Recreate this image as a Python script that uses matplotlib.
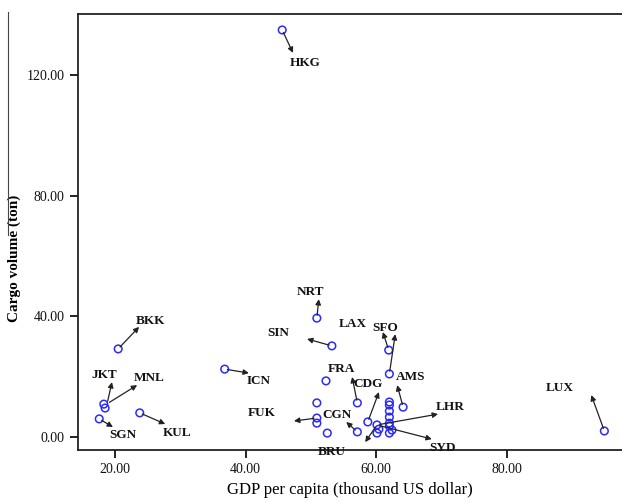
import numpy as np
import matplotlib
matplotlib.use("Agg")
import matplotlib.pyplot as plt
from matplotlib.lines import Line2D

plt.rcParams['font.family'] = ['Liberation Serif', 'DejaVu Serif']

# GDP per capita (thousand US dollar) and cargo volume (ton) for each airport
gdp = [45.6, 20.5, 18.3, 18.5, 17.6, 23.8, 36.8,
       50.9, 50.9, 50.9, 52.5, 50.9, 53.2, 52.3,
       57.1, 57.1, 58.7, 60.1, 60.4, 60.1,
       62.0, 62.0, 62.0, 62.0, 62.0, 62.0, 62.0, 62.4,
       64.1, 62.0, 61.9, 94.9]
cargo = [134.9, 29.2, 10.9, 9.6, 6.0, 8.0, 22.5,
         11.3, 6.3, 4.6, 1.3, 39.4, 30.2, 18.6,
         11.3, 1.7, 5.0, 4.0, 2.6, 1.3,
         11.6, 10.6, 8.6, 6.6, 4.6, 3.6, 1.3, 2.3,
         9.9, 20.9, 28.8, 2.0]

# airport labels: text position
labels = ['HKG', 'BKK', 'JKT', 'MNL', 'SGN', 'KUL', 'ICN', 'FUK', 'NRT', 'SIN',
          'LAX', 'SFO', 'AMS', 'FRA', 'CDG', 'CGN', 'BRU', 'LHR', 'SYD', 'LUX']
label_x = [49.1, 25.5, 18.3, 25.2, 21.2, 29.5, 42.0, 42.5, 49.9, 45.0,
           56.4, 61.3, 65.2, 54.7, 58.7, 54.0, 53.2, 71.3, 70.2, 88.1]
label_y = [124.0, 38.4, 20.5, 19.6, 0.7, 1.3, 18.6, 8.0, 48.1, 34.5,
           37.5, 36.1, 19.9, 22.5, 17.6, 7.3, -5.0, 9.9, -3.6, 16.2]

# arrows: from point to tip
arrow_x0 = [45.6, 20.5, 18.8, 18.8, 17.6, 23.8, 36.8, 50.9, 50.9, 53.2,
            61.9, 62.0, 64.1, 57.1, 58.7, 57.1, 60.1, 60.1, 60.1, 94.9]
arrow_y0 = [134.9, 29.2, 11.0, 11.0, 6.0, 8.0, 22.5, 6.3, 39.4, 30.2,
            28.8, 20.9, 9.9, 11.3, 5.0, 1.7, 4.0, 4.0, 4.0, 2.0]
arrow_x1 = [47.25, 23.7, 19.55, 23.4, 19.7, 27.7, 40.5, 47.4, 51.2, 49.4,
            61.0, 62.9, 63.2, 56.3, 60.4, 55.4, 58.3, 69.45, 68.5, 92.9]
arrow_y1 = [127.3, 36.5, 18.2, 17.2, 3.3, 4.3, 21.2, 5.3, 45.7, 32.5,
            34.8, 34.1, 17.2, 19.9, 14.9, 5.0, -1.7, 7.6, -0.7, 13.9]

fig = plt.figure(figsize=(6.22, 5.03), dpi=100)
ax = fig.add_axes([0.1254, 0.1054, 0.8746, 0.8668])

ax.scatter(gdp, cargo, s=30, facecolors='none', edgecolors='#2a2aff', linewidths=1.1, zorder=3)

for i in range(len(arrow_x0)):
    ax.annotate('', xy=(arrow_x1[i], arrow_y1[i]), xytext=(arrow_x0[i], arrow_y0[i]),
                arrowprops=dict(arrowstyle='-|>', color='#222222', lw=0.9,
                                mutation_scale=8, shrinkA=2, shrinkB=0),
                annotation_clip=False)

for lab, lx, ly in zip(labels, label_x, label_y):
    ax.text(lx, ly, lab, ha='center', va='center', fontsize=9.5, fontweight='bold',
            color='#111111', clip_on=False, zorder=4)

ax.set_xlim(14.35, 97.6)
ax.set_ylim(-4.3, 140.2)
ax.set_xticks([20, 40, 60, 80])
ax.set_yticks([0, 40, 80, 120])
ax.xaxis.set_major_formatter(matplotlib.ticker.FormatStrFormatter('%.2f'))
ax.yaxis.set_major_formatter(matplotlib.ticker.FormatStrFormatter('%.2f'))
ax.tick_params(direction='out', length=6, width=1.3, labelsize=10, colors='#111111')
ax.spines['right'].set_visible(False)
for s in ['left', 'bottom', 'top']:
    ax.spines[s].set_linewidth(1.3)
    ax.spines[s].set_color('#222222')

ax.set_xlabel('GDP per capita (thousand US dollar)', fontsize=12)
ax.xaxis.set_label_coords(0.5, -0.074)
ax.set_ylabel('Cargo volume (ton)', fontsize=11, fontweight='bold')
ax.yaxis.set_label_coords(-0.105, 0.44)

# thin border line on the left edge of the original image
fig.add_artist(Line2D([8 / 622, 8 / 622], [1 - 12 / 503, 1 - 235 / 503],
                      color='#444444', lw=0.8))

fig.savefig('out.png', dpi=100)
